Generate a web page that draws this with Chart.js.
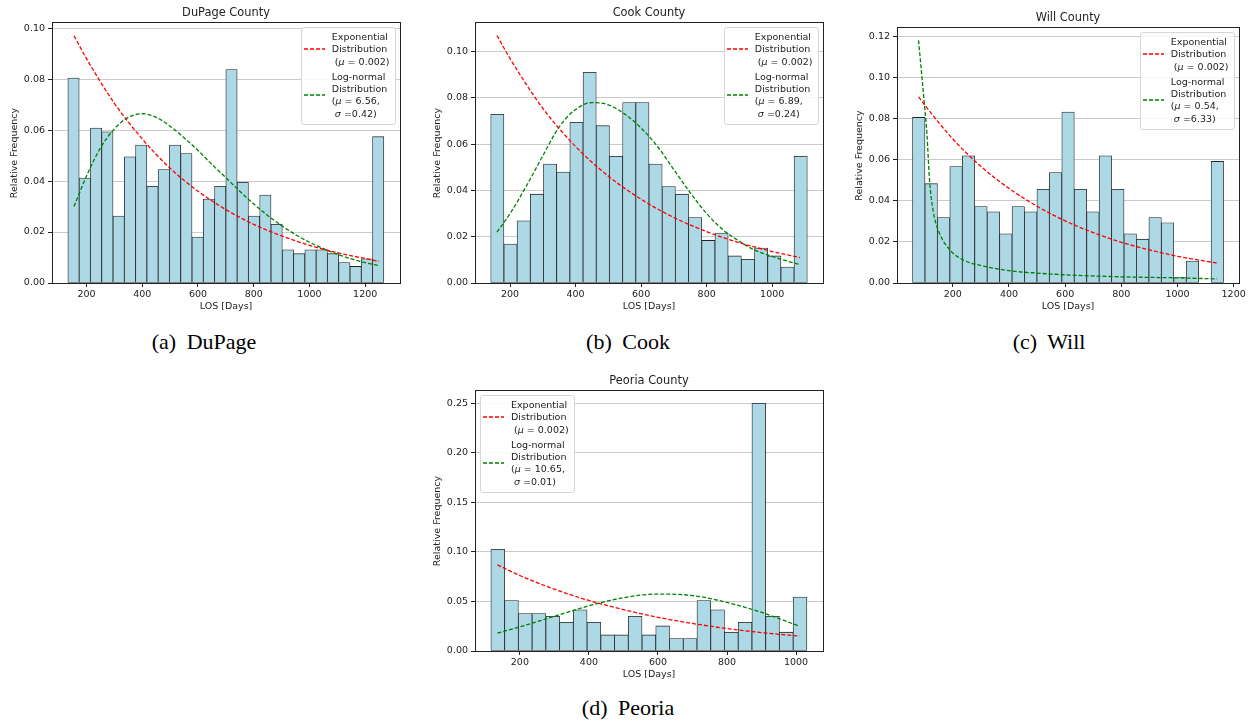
<!DOCTYPE html>
<html>
<head>
<meta charset="utf-8">
<script src="https://cdn.jsdelivr.net/npm/chart.js@4.4.0/dist/chart.umd.min.js"></script>
<style>
  body { margin: 0; background: #fff; width: 1255px; height: 726px; position: relative; overflow: hidden; font-family: "DejaVu Sans", sans-serif; }
  canvas { position: absolute; }
  .cap { position: absolute; font-family: "Liberation Serif", "Times New Roman", serif; font-size: 22px; word-spacing: 5px; line-height: 1; white-space: nowrap; transform: translateX(-50%); color: #000; }
  .leg { position: absolute; border: 1px solid #d6d6d6; border-radius: 3px; background: rgba(255,255,255,0.85); padding: 3px 5px 4px 0; font-size: 9.5px; line-height: 12.3px; color: #222; }
  .ent { position: relative; padding-left: 30px; white-space: pre; }
  .ent + .ent { margin-top: 3px; }
  .ent svg { position: absolute; left: 2px; top: 50%; margin-top: -2px; }
</style>
</head>
<body>
<script>
// histogram bins (relative frequency per bin)
const dupageFreq = [0.0804, 0.0412, 0.0608, 0.0593, 0.0263, 0.0495, 0.0541, 0.0379, 0.0445, 0.0541,
  0.0508, 0.018, 0.0329, 0.0379, 0.0837, 0.0395, 0.0263, 0.0345, 0.023, 0.013, 0.0115, 0.013, 0.013,
  0.0115, 0.008, 0.0065, 0.0095, 0.0574];
const dupageBinStart = 133, dupageBinWidth = 40.5;

const cookFreq = [0.0729, 0.0168, 0.0269, 0.0384, 0.0514, 0.048, 0.0695, 0.0911, 0.068, 0.0548, 0.078,
  0.078, 0.0514, 0.0417, 0.0384, 0.0283, 0.0184, 0.0216, 0.0117, 0.0102, 0.0151, 0.0117, 0.0069, 0.0548];
const cookBinStart = 141, cookBinWidth = 40.25;

const willFreq = [0.0805, 0.0483, 0.0318, 0.0566, 0.0618, 0.0372, 0.0346, 0.0239, 0.0372, 0.0346, 0.0456,
  0.0537, 0.0831, 0.0456, 0.0346, 0.0618, 0.0456, 0.0239, 0.0213, 0.0318, 0.0293, 0.0026, 0.0107, 0, 0.0591];
const willBinStart = 56.5, willBinWidth = 44.3;

const peoriaFreq = [0.1027, 0.051, 0.0378, 0.0378, 0.035, 0.029, 0.0415, 0.029, 0.0162, 0.0162, 0.035,
  0.0162, 0.0253, 0.0125, 0.0125, 0.051, 0.0415, 0.019, 0.029, 0.25, 0.035, 0.019, 0.0544];
const peoriaBinStart = 116, peoriaBinWidth = 39.8;

// fitted curves
const dupageExpX = [155, 200, 300, 400, 500, 600, 700, 800, 900, 1000, 1100, 1250];
const dupageExpY = [0.097, 0.088, 0.0705, 0.0565, 0.045, 0.036, 0.0288, 0.023, 0.0185, 0.0148, 0.0119, 0.0085];
const dupageLnX = [155, 200, 250, 300, 350, 400, 450, 500, 550, 600, 650, 700, 750, 800, 850, 900, 950, 1000, 1050, 1100, 1150, 1200, 1250];
const dupageLnY = [0.030, 0.042, 0.053, 0.0605, 0.065, 0.0664, 0.065, 0.0615, 0.057, 0.052, 0.0465, 0.0413, 0.036, 0.031, 0.0265, 0.0225, 0.019, 0.016, 0.0135, 0.0113, 0.0095, 0.008, 0.0068];

const cookExpX = [160, 200, 300, 400, 500, 600, 700, 800, 900, 1000, 1085];
const cookExpY = [0.107, 0.097, 0.0755, 0.059, 0.0462, 0.0362, 0.0283, 0.0222, 0.0174, 0.0136, 0.011];
const cookLnX = [160, 200, 250, 300, 350, 400, 450, 500, 550, 600, 650, 700, 750, 800, 850, 900, 950, 1000, 1050, 1085];
const cookLnY = [0.022, 0.030, 0.042, 0.055, 0.0675, 0.075, 0.078, 0.077, 0.073, 0.067, 0.059, 0.049, 0.039, 0.030, 0.023, 0.018, 0.014, 0.0115, 0.0093, 0.008];

const willExpX = [78, 100, 200, 300, 400, 500, 600, 700, 800, 900, 1000, 1141];
const willExpY = [0.0905, 0.0865, 0.070, 0.0567, 0.046, 0.0373, 0.0302, 0.0245, 0.0198, 0.0161, 0.013, 0.0097];
const willLnX = [78, 90, 100, 108, 117, 130, 150, 190, 240, 300, 400, 500, 600, 800, 1000, 1141];
const willLnY = [0.118, 0.100, 0.085, 0.072, 0.050, 0.035, 0.025, 0.016, 0.011, 0.0085, 0.006, 0.0048, 0.004, 0.003, 0.0025, 0.002];

const peoriaExpX = [135, 200, 300, 400, 500, 600, 700, 800, 900, 1010];
const peoriaExpY = [0.087, 0.0762, 0.0624, 0.051, 0.0418, 0.034, 0.0278, 0.0227, 0.0186, 0.015];
const peoriaLnX = [135, 200, 300, 400, 500, 600, 700, 800, 900, 1010];
const peoriaLnY = [0.018, 0.0244, 0.035, 0.0456, 0.0538, 0.0575, 0.056, 0.049, 0.039, 0.025];

// tick labels
const xTicks1200 = [200, 400, 600, 800, 1000, 1200];
const xTicks1000 = [200, 400, 600, 800, 1000];
const yTicks010 = [0, 0.02, 0.04, 0.06, 0.08, 0.10];
const yTicks012 = [0, 0.02, 0.04, 0.06, 0.08, 0.10, 0.12];
const yTicks025 = [0, 0.05, 0.10, 0.15, 0.20, 0.25];

const expLabel = ['Exponential', 'Distribution', ' (μ = 0.002)'];
const dupageLnLabel = ['Log-normal', 'Distribution', '(μ = 6.56,', ' σ =0.42)'];
const cookLnLabel = ['Log-normal', 'Distribution', '(μ = 6.89,', ' σ =0.24)'];
const willLnLabel = ['Log-normal', 'Distribution', '(μ = 0.54,', ' σ =6.33)'];
const peoriaLnLabel = ['Log-normal', 'Distribution', '(μ = 10.65,', ' σ =0.01)'];

const INK = '#222';
const FAMILY = '"DejaVu Sans", sans-serif';
const tickFont = { family: FAMILY, size: 9.5 };

// matplotlib-style box around the plot area
const frame = {
  id: 'frame',
  afterDatasetsDraw(chart) {
    const a = chart.chartArea, ctx = chart.ctx;
    const al = v => Math.round(v - 0.5) + 0.5;
    ctx.save();
    ctx.strokeStyle = INK;
    ctx.lineWidth = 1;
    ctx.strokeRect(al(a.left), al(a.top), al(a.right) - al(a.left), al(a.bottom) - al(a.top));
    ctx.restore();
  }
};

function curve(xs, ys, color) {
  return {
    type: 'line', data: xs.map((x, i) => ({ x: x, y: ys[i] })),
    borderColor: color, borderWidth: 1.3, borderDash: [4, 2], pointRadius: 0,
    fill: false, cubicInterpolationMode: 'monotone', order: 0
  };
}

function panel(p) {
  const [L, T, R, B] = p.area;
  const cv = document.createElement('canvas');
  cv.width = R - L + 52 + 10;
  cv.height = B - T + 23 + 35;
  cv.style.left = (L - 52) + 'px';
  cv.style.top = (T - 23) + 'px';
  document.body.appendChild(cv);

  const bars = p.freq.map((v, i) => ({ x: p.binStart + p.binWidth * (i + 0.5), y: v }));

  new Chart(cv, {
    type: 'bar',
    data: {
      datasets: [
        curve(p.expX, p.expY, '#ff0000'),
        curve(p.lnX, p.lnY, '#008000'),
        {
          type: 'bar', data: bars, backgroundColor: '#add8e6', borderColor: INK,
          borderWidth: 0.8, borderSkipped: false, barPercentage: 1, categoryPercentage: 1, order: 1
        }
      ]
    },
    options: {
      responsive: false,
      animation: false,
      layout: { padding: { right: 10 } },
      plugins: {
        legend: { display: false },
        tooltip: { enabled: false },
        title: {
          display: true, text: p.title, fullSize: false, color: INK,
          font: { family: FAMILY, size: 11.4, weight: 'normal' },
          padding: { top: 6.2, bottom: 3.1 }
        }
      },
      scales: {
        x: {
          type: 'linear', min: p.xRange[0], max: p.xRange[1], offset: false,
          afterFit: s => { s.height = 35; },
          afterBuildTicks: s => { s.ticks = p.xTicks.map(v => ({ value: v })); },
          grid: { drawOnChartArea: false, offset: false, tickLength: 4, tickColor: INK },
          border: { color: INK },
          ticks: { font: tickFont, color: INK, padding: 2, maxRotation: 0, autoSkip: false, callback: v => String(v) },
          title: { display: true, text: 'LOS [Days]', font: tickFont, color: INK, padding: { top: 0, bottom: 5.3 } }
        },
        y: {
          min: 0, max: p.yMax,
          afterFit: s => { s.width = 52; },
          afterBuildTicks: s => { s.ticks = p.yTicks.map(v => ({ value: v })); },
          grid: { color: '#cbcbcb', tickLength: 4, tickColor: INK },
          border: { color: INK },
          ticks: { font: tickFont, color: INK, padding: 3, autoSkip: false, callback: v => v.toFixed(2) },
          title: { display: true, text: 'Relative Frequency', font: tickFont, color: INK, padding: { top: 8.4, bottom: 0 } }
        }
      }
    },
    plugins: [frame]
  });

  // legend box
  const leg = document.createElement('div');
  leg.className = 'leg';
  const fmt = s => s.replace('μ', '<i>μ</i>').replace('σ', '<i>σ</i>');
  const entry = (lines, color) =>
    '<div class="ent"><svg width="21" height="4"><line x1="0" y1="2" x2="21" y2="2" stroke="' + color +
    '" stroke-width="1.3" stroke-dasharray="4 2"/></svg>' + lines.map(fmt).join('\n') + '</div>';
  leg.innerHTML = entry(expLabel, '#ff0000') + entry(p.lnLabel, '#008000');
  leg.style.top = (T + 4) + 'px';
  if (p.legendLeft) leg.style.left = (L + 5) + 'px';
  else leg.style.right = (1255 - R + 4.5) + 'px';
  document.body.appendChild(leg);

  const cap = document.createElement('div');
  cap.className = 'cap';
  cap.textContent = p.caption;
  cap.style.left = p.capX + 'px';
  cap.style.top = p.capY + 'px';
  document.body.appendChild(cap);
}

panel({ area: [52, 23, 400, 283], title: 'DuPage County', freq: dupageFreq, binStart: dupageBinStart, binWidth: dupageBinWidth,
  expX: dupageExpX, expY: dupageExpY, lnX: dupageLnX, lnY: dupageLnY, lnLabel: dupageLnLabel,
  xRange: [76, 1325], xTicks: xTicks1200, yMax: 0.102, yTicks: yTicks010, caption: '(a) DuPage', capX: 204, capY: 331 });

panel({ area: [475, 23, 823, 283], title: 'Cook County', freq: cookFreq, binStart: cookBinStart, binWidth: cookBinWidth,
  expX: cookExpX, expY: cookExpY, lnX: cookLnX, lnY: cookLnY, lnLabel: cookLnLabel,
  xRange: [93, 1155], xTicks: xTicks1000, yMax: 0.1124, yTicks: yTicks010, caption: '(b) Cook', capX: 628, capY: 331 });

panel({ area: [897, 28, 1239, 283], title: 'Will County', freq: willFreq, binStart: willBinStart, binWidth: willBinWidth,
  expX: willExpX, expY: willExpY, lnX: willLnX, lnY: willLnY, lnLabel: willLnLabel,
  xRange: [1.2, 1219], xTicks: xTicks1200, yMax: 0.124, yTicks: yTicks012, caption: '(c) Will', capX: 1049, capY: 331 });

panel({ area: [475, 391, 823, 651], title: 'Peoria County', freq: peoriaFreq, binStart: peoriaBinStart, binWidth: peoriaBinWidth,
  expX: peoriaExpX, expY: peoriaExpY, lnX: peoriaLnX, lnY: peoriaLnY, lnLabel: peoriaLnLabel, legendLeft: true,
  xRange: [70, 1078], xTicks: xTicks1000, yMax: 0.2625, yTicks: yTicks025, caption: '(d) Peoria', capX: 628, capY: 697 });
</script>
</body>
</html>
